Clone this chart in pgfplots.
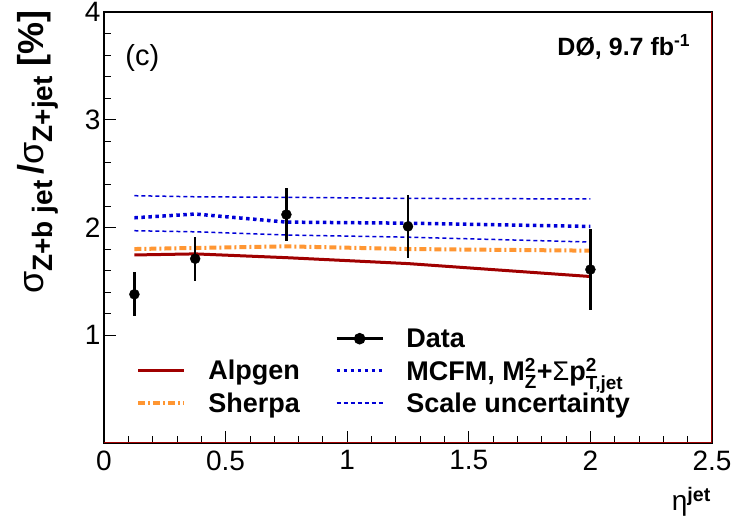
\documentclass[border=0pt]{standalone}
\usepackage{amsmath}
\usepackage{fontspec}
\setmainfont{Liberation Sans}
\usepackage{pgfplots}
\pgfplotsset{compat=1.18}
\definecolor{alpred}{RGB}{160,0,0}
\definecolor{sherpa}{RGB}{255,150,50}
\definecolor{mcfm}{RGB}{0,0,215}

\pgfplotstableread{
x     y     e
0.125 1.38  0.205
0.375 1.71  0.205
0.75  2.12  0.245
1.25  2.01  0.295
2.0   1.61  0.38
}\datatab

\pgfplotstableread{
x     alp   sh    mc    up    lo
0.125 1.745 1.80  2.09  2.295 1.97
0.375 1.755 1.81  2.125 2.285 1.96
0.75  1.72  1.825 2.05  2.28  1.93
1.25  1.665 1.80  2.04  2.27  1.91
2.0   1.545 1.785 2.01  2.265 1.865
}\theory

\newcommand{\lsub}[1]{\raisebox{-9pt}{\fontsize{28}{31}\selectfont\bfseries #1}}

\begin{document}
\begin{tikzpicture}
\useasboundingbox (-104pt,-83pt) rectangle (637pt,443pt);
\begin{axis}[
  at={(0,0)}, anchor=south west,
  width=608pt, height=431pt, scale only axis,
  xmin=0, xmax=2.5, ymin=0, ymax=4,
  xtick={0,0.5,1,1.5,2,2.5},
  xticklabels={0,0.5,1,1.5,2,2.5},
  ytick={1,2,3,4},
  minor x tick num=4, minor y tick num=4,
  xtick pos=bottom, ytick pos=left,
  tick align=inside,
  major tick length=12pt, minor tick length=7pt,
  tick style={black, line width=0.8pt},
  axis line style={line width=1.2pt},
  /pgf/number format/assume math mode=true,
  ticklabel style={font=\fontsize{28}{32}\selectfont},
  xticklabel style={yshift=-4pt},
  legend columns=2,
  legend cell align=left,
  legend image code/.code={\draw[mark repeat=2,mark phase=2,#1] plot coordinates {(0pt,0pt) (23pt,0pt) (46pt,0pt)};},
  legend style={draw=none, fill=none, at={(axis cs:0.12,1.10)}, anchor=north west,
    font=\bfseries\fontsize{27}{30}\selectfont, row sep=6pt,
    /tikz/every odd column/.append style={column sep=20pt},
    /tikz/every even column/.append style={column sep=33pt}},
]
% curves
\addplot[alpred, line width=3pt, forget plot] table[x=x,y=alp] {\theory};
\addplot[sherpa, line width=4pt, dash pattern=on 7pt off 3pt on 2pt off 3pt, forget plot] table[x=x,y=sh] {\theory};
\addplot[mcfm, line width=3.5pt, dash pattern=on 3.5pt off 3.5pt, forget plot] table[x=x,y=mc] {\theory};
\addplot[mcfm, line width=1.5pt, dash pattern=on 4pt off 3pt, forget plot] table[x=x,y=up] {\theory};
\addplot[mcfm, line width=1.5pt, dash pattern=on 4pt off 3pt, forget plot] table[x=x,y=lo] {\theory};
% data
\addplot[black, only marks, mark=*, mark size=5pt, forget plot,
  error bars/.cd, y dir=both, y explicit, error mark=none,
  error bar style={line width=2.5pt}]
  table[x=x,y=y,y error=e] {\datatab};

\addlegendimage{empty legend}\addlegendentry{}
\addlegendimage{black, line width=2.5pt, mark=*, mark size=4.5pt}\addlegendentry{Data}
\addlegendimage{alpred, line width=3pt}\addlegendentry{Alpgen}
\addlegendimage{mcfm, line width=3.5pt, dash pattern=on 3.5pt off 3.5pt}
\addlegendentry{MCFM, M$^{\text{2}}_{\text{Z}}$+\textmd{Σ}p$^{\text{2}}_{\text{T,jet}}$}
\addlegendimage{sherpa, line width=4pt, dash pattern=on 7pt off 3pt on 2pt off 3pt}\addlegendentry{Sherpa}
\addlegendimage{mcfm, line width=1.5pt, dash pattern=on 4pt off 3pt}\addlegendentry{Scale uncertainty}

\draw[alpred, line width=1.5pt] (rel axis cs:1,0) -- (rel axis cs:1,1);
\draw[alpred, line width=1.5pt] (rel axis cs:0,0) -- (rel axis cs:1,0);
\node[anchor=base west, inner sep=0pt, font=\fontsize{29}{32}\selectfont] at (rel axis cs:0.035,0.875) {(c)};
\node[anchor=base east, font=\bfseries\fontsize{25}{28}\selectfont] at (rel axis cs:0.97,0.9) {DØ, 9.7 fb$^{\text{-1}}$};
\end{axis}
\node[rotate=90, anchor=north east, inner sep=0pt, font=\bfseries\fontsize{36}{40}\selectfont]
  at (-87pt,433pt) {\textmd{σ}\lsub{Z+b jet}\,/\textmd{σ}\lsub{Z+jet} [\%]};
\node[anchor=north east, inner sep=0pt, font=\fontsize{28}{32}\selectfont]
  at (607pt,-44pt) {η$^{\textbf{jet}}$};
\end{tikzpicture}
\end{document}
